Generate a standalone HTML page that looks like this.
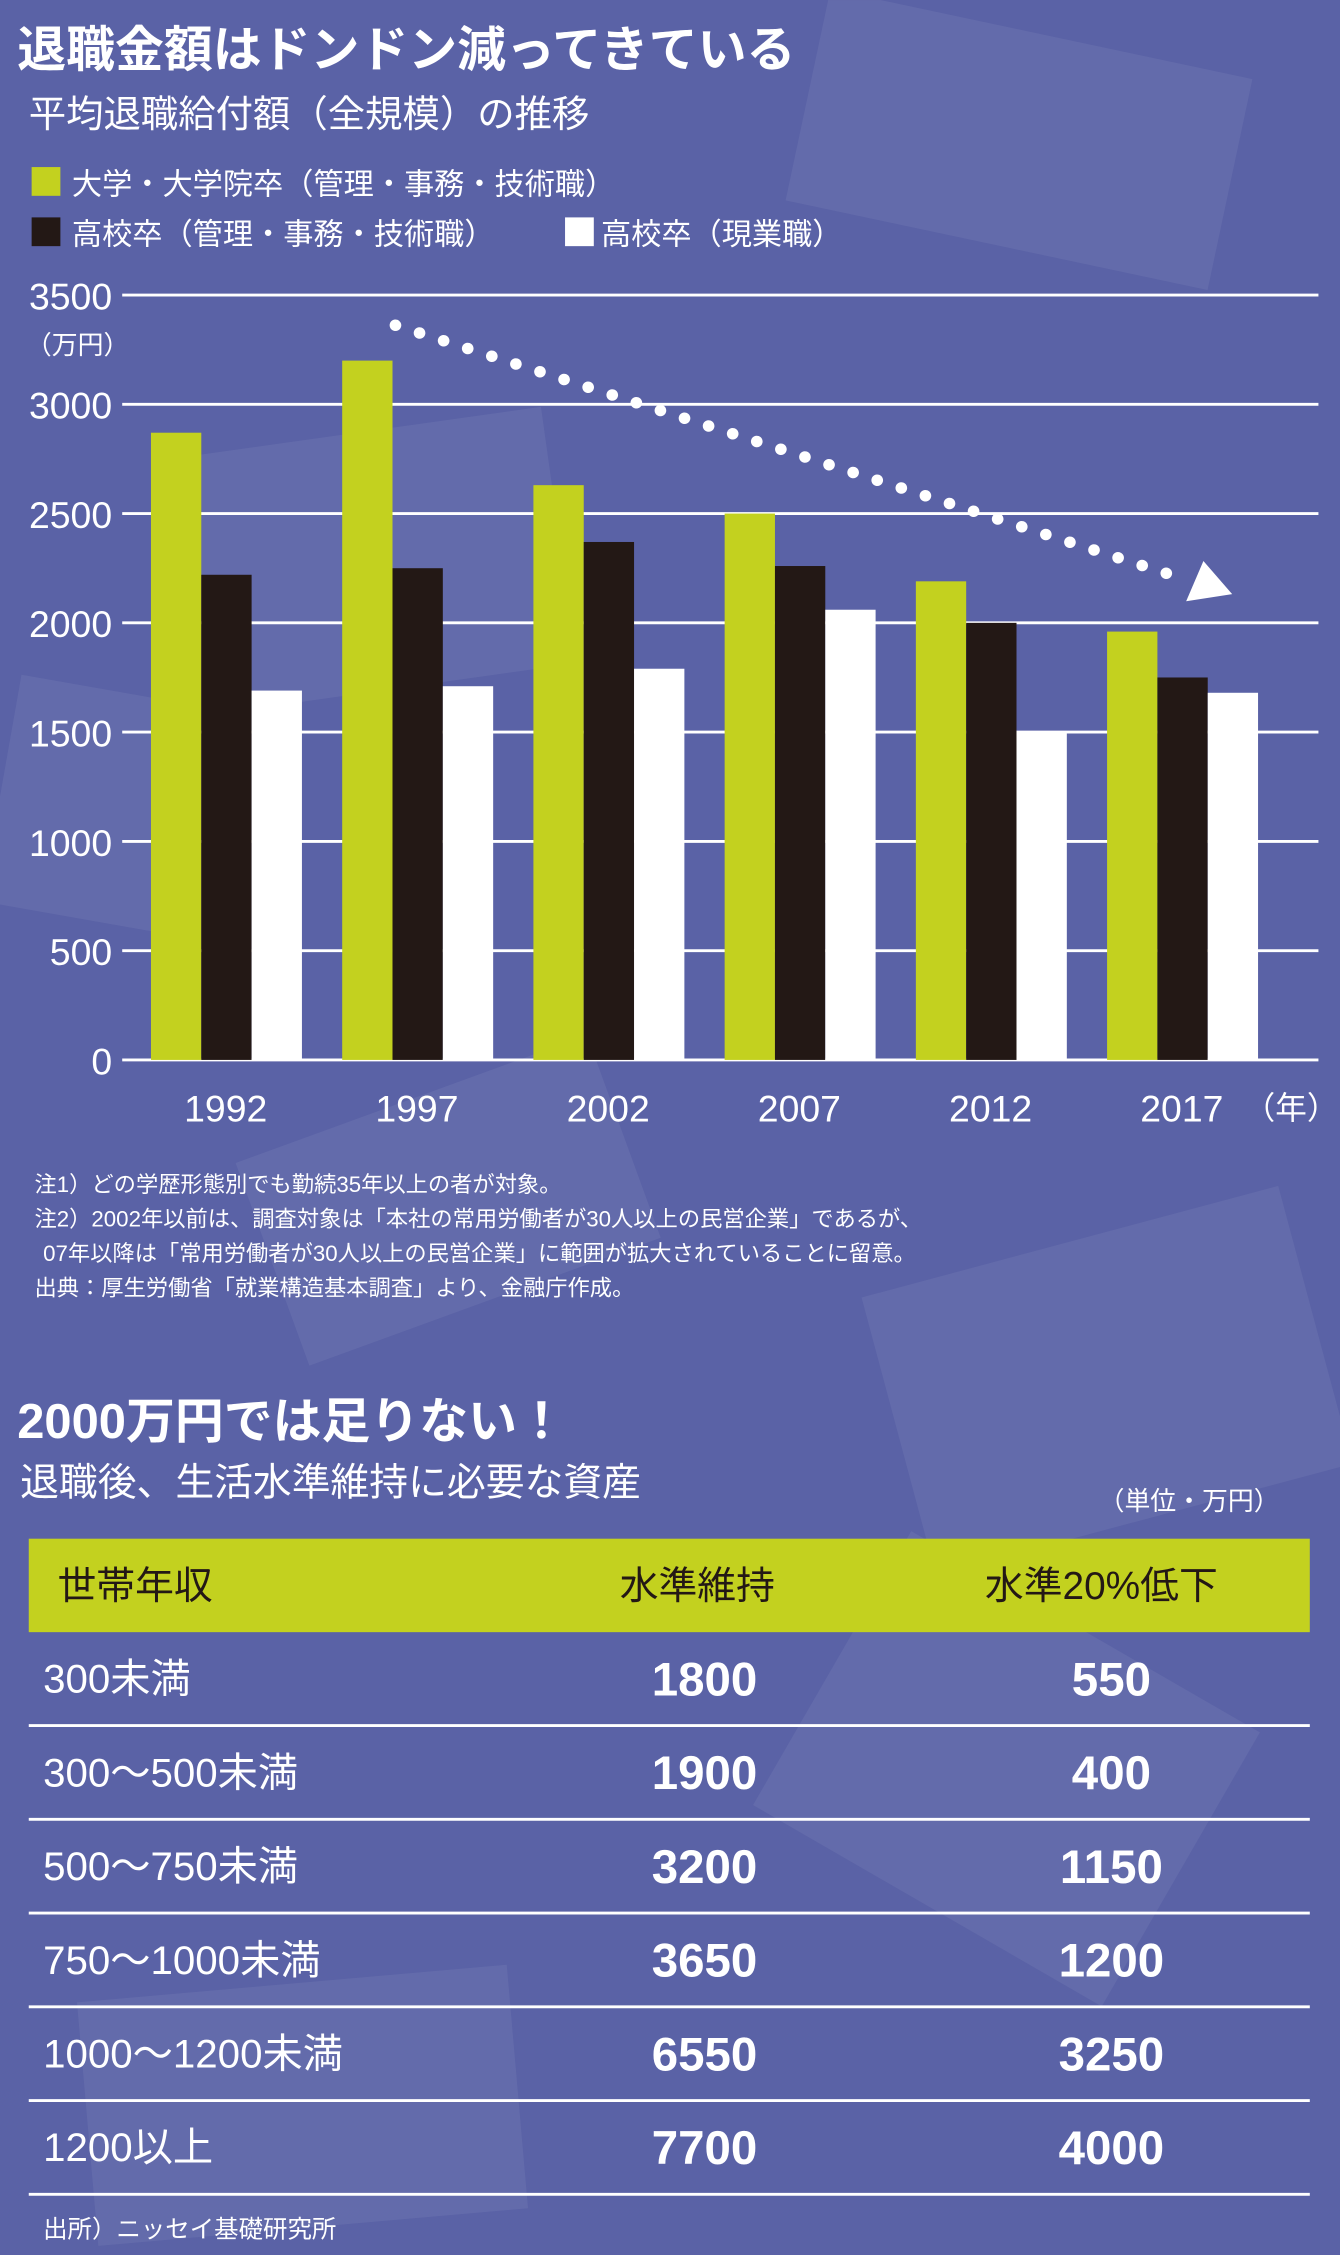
<!DOCTYPE html>
<html><head><meta charset="utf-8"><style>
html,body{margin:0;padding:0;background:#5a62a6;}
svg{display:block;font-family:"Liberation Sans","Noto Sans CJK JP",sans-serif;}
</style></head><body>
<svg id="root" width="1340" height="2255" viewBox="0 0 932 1568" xmlns="http://www.w3.org/2000/svg">
<rect x="0" y="0" width="932" height="1568" fill="#5a62a6"/>
<g opacity="0.06" fill="#ffffff">
<rect x="560" y="20" width="300" height="150" transform="rotate(12 700 90)"/>
<rect x="130" y="300" width="260" height="180" transform="rotate(-8 260 390)"/>
<rect x="620" y="860" width="300" height="200" transform="rotate(-15 770 960)"/>
<rect x="0" y="480" width="140" height="160" transform="rotate(10 70 560)"/>
<rect x="560" y="1120" width="280" height="220" transform="rotate(30 700 1230)"/>
<rect x="60" y="1380" width="300" height="170" transform="rotate(-5 200 1460)"/>
<rect x="180" y="760" width="260" height="150" transform="rotate(-20 310 830)"/>
</g>
<text x="12" y="46" font-size="34" font-weight="bold" fill="#fff">退職金額はドンドン減ってきている</text>
<text x="20" y="88" font-size="26" fill="#fff">平均退職給付額（全規模）の推移</text>
<g>
<rect x="22" y="116" width="20" height="20" fill="#c3d11f"/>
<text x="50" y="135" font-size="21" fill="#fff">大学・大学院卒（管理・事務・技術職）</text>
<rect x="22" y="151" width="20" height="20" fill="#231815"/>
<text x="50" y="170" font-size="21" fill="#fff">高校卒（管理・事務・技術職）</text>
<rect x="393" y="151" width="20" height="20" fill="#fff"/>
<text x="418" y="170" font-size="21" fill="#fff">高校卒（現業職）</text>
</g>
<g id="chart"></g>
<g>
<line x1="275" y1="226" x2="822" y2="402" stroke="#fff" stroke-width="8" stroke-linecap="round" stroke-dasharray="0.1 17.5"/>
<polygon points="857,413 825,418 837,390" fill="#fff"/>
</g>
<g font-size="15.5" fill="#fff">
<text x="24" y="829">注1）どの学歴形態別でも勤続35年以上の者が対象。</text>
<text x="24" y="853">注2）2002年以前は、調査対象は「本社の常用労働者が30人以上の民営企業」であるが、</text>
<text x="30" y="877">07年以降は「常用労働者が30人以上の民営企業」に範囲が拡大されていることに留意。</text>
<text x="24" y="901">出典：厚生労働省「就業構造基本調査」より、金融庁作成。</text>
</g>
<text x="12" y="1000" font-size="34" font-weight="bold" fill="#fff">2000万円では足りない！</text>
<text x="14" y="1040" font-size="27" fill="#fff">退職後、生活水準維持に必要な資産</text>
<text x="890" y="1050" font-size="18" fill="#fff" text-anchor="end">（単位・万円）</text>
<rect x="20" y="1070" width="891" height="65" fill="#c3d11f"/>
<text x="40" y="1112" font-size="27" fill="#231815">世帯年収</text>
<text x="485" y="1112" font-size="27" fill="#231815" text-anchor="middle">水準維持</text>
<text x="766" y="1112" font-size="27" fill="#231815" text-anchor="middle">水準20%低下</text>
<g id="table"></g>
<text x="30" y="1556" font-size="17" fill="#fff">出所）ニッセイ基礎研究所</text>
</svg>
<script>
const years=["1992","1997","2002","2007","2012","2017"];
const univ=[2870,3200,2630,2500,2190,1960];
const hsOffice=[2220,2250,2370,2260,2000,1750];
const hsField=[1690,1710,1790,2060,1500,1680];
const yTicks=[0,500,1000,1500,2000,2500,3000,3500];
const incomes=["300未満","300〜500未満","500〜750未満","750〜1000未満","1000〜1200未満","1200以上"];
const maintain=["1800","1900","3200","3650","6550","7700"];
const reduced=["550","400","1150","1200","3250","4000"];

const NS="http://www.w3.org/2000/svg";
function mk(tag,attrs,parent,text){const e=document.createElementNS(NS,tag);for(const k in attrs)e.setAttribute(k,attrs[k]);if(text!==undefined)e.textContent=text;parent.appendChild(e);return e;}
const chart=document.getElementById('chart');
const y0=737,yTop=205,vMax=3500;
function yS(v){return y0-(v/vMax)*(y0-yTop);}
function xG(i){return 105+i*133;}
yTicks.forEach(t=>{
  const l=mk('line',{x1:85,x2:917,y1:yS(t),y2:yS(t),stroke:'#fff','stroke-width':2},chart);
  
  
  const tx=mk('text',{x:78,y:yS(t)+10,'font-size':26,fill:'#fff','text-anchor':'end'},chart,String(t));
  
  
});
const unit=mk('text',{x:18,y:246,'font-size':18,fill:'#fff'},chart,'（万円）');


const series=[[univ,'#c3d11f','bar-university'],[hsOffice,'#231815','bar-highschool-office'],[hsField,'#ffffff','bar-highschool-field']];
years.forEach((yr,i)=>{
  series.forEach((s,j)=>{
    const v=s[0][i];
    const r=mk('rect',{x:xG(i)+j*35,y:yS(v),width:35,height:y0-yS(v),fill:s[1]},chart);
    
    
  });
  const t=mk('text',{x:xG(i)+52,y:780,'font-size':26,fill:'#fff','text-anchor':'middle'},chart,yr);
  
  
});
const yu=mk('text',{x:865,y:778,'font-size':22,fill:'#fff'},chart,'（年）');



const table=document.getElementById('table');
incomes.forEach((inc,i)=>{
  const yc=1167+i*65.2;
  const a=mk('text',{x:30,y:yc+10,'font-size':28,fill:'#fff'},table,inc);
  
  
  const b=mk('text',{x:490,y:yc+12,'font-size':33,'font-weight':'bold',fill:'#fff','text-anchor':'middle'},table,maintain[i]);
  
  
  const c=mk('text',{x:773,y:yc+12,'font-size':33,'font-weight':'bold',fill:'#fff','text-anchor':'middle'},table,reduced[i]);
  
  
  const ly=1200+i*65.2;
  const l=mk('line',{x1:20,x2:911,y1:ly,y2:ly,stroke:'#fff','stroke-width':2},table);
  
  
});
</script>
</body></html>
